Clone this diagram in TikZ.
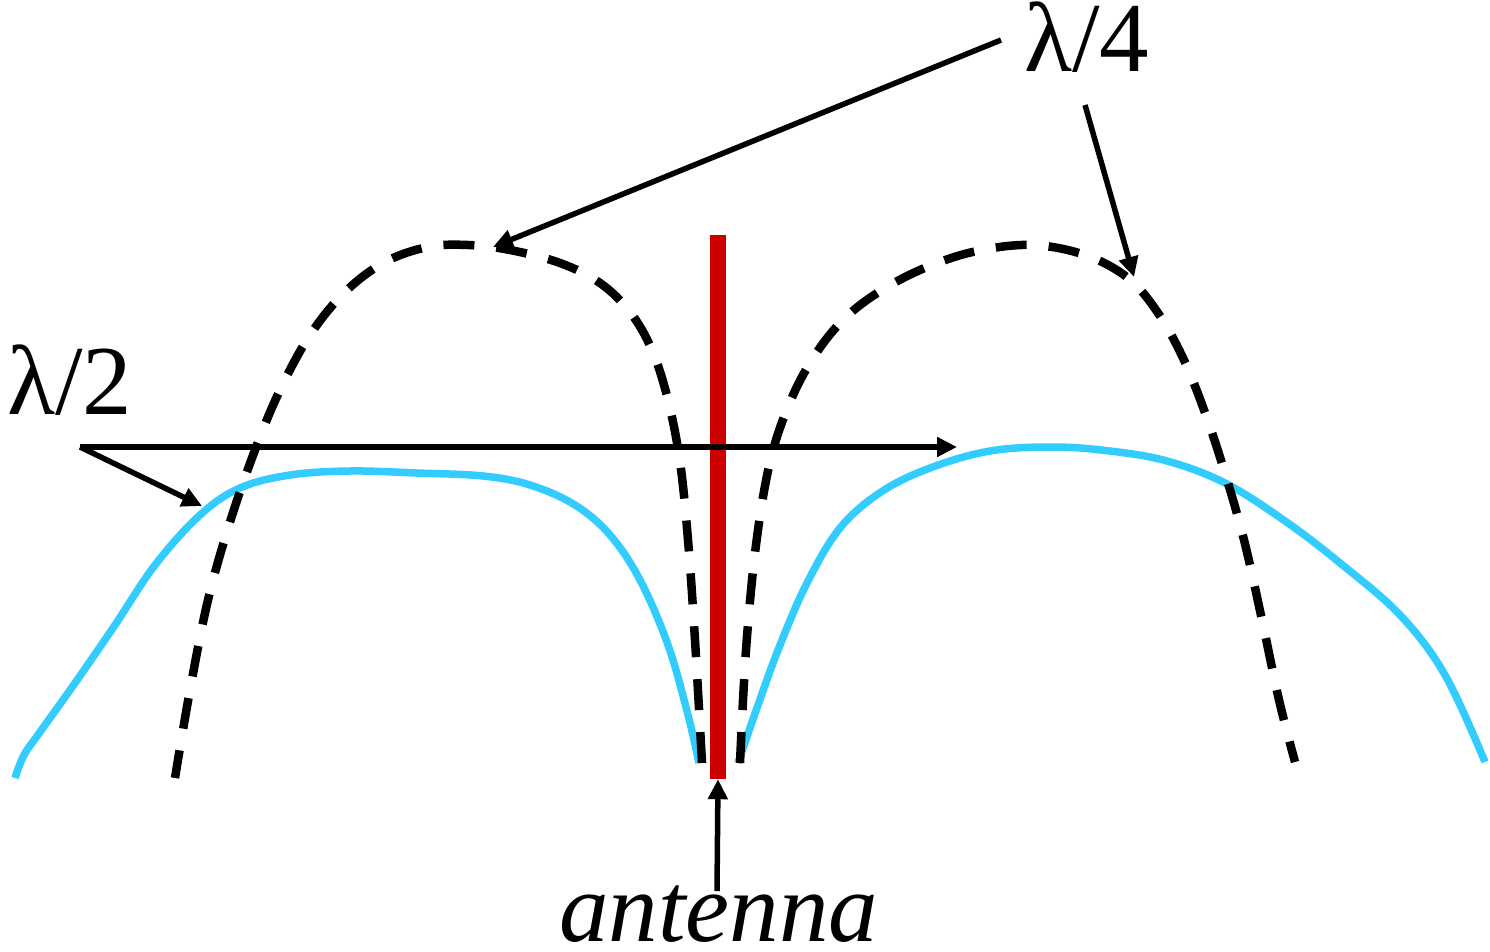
\documentclass[tikz,border=0pt]{standalone}
\usepackage{fontspec}
\setmainfont{Liberation Serif}
\usetikzlibrary{arrows.meta}
\definecolor{wave}{HTML}{33CCFF}
\definecolor{ant}{HTML}{CC0000}
\begin{document}
\begin{tikzpicture}[x=1pt,y=-1pt,
  lab/.style={inner sep=0pt, anchor=base west, font=\fontsize{99}{104}\selectfont},
  ptr/.style={line width=5.5pt, -{Triangle[length=20pt,width=19pt]}},
  lobe/.style={line width=8.5pt, dash pattern=on 31pt off 22pt},
  field/.style={line width=7.5pt, wave},
]
\useasboundingbox (0,0) rectangle (1490,952);

% field curve (blue)
\draw[field] plot[smooth, tension=0.6] coordinates {
  (15,778) (24,755) (40,732) (75,683) (115,625) (155,565) (200,515)
  (240,488) (290,475) (350,471) (417,473) (483,476) (530,485)
  (575,505) (610,535) (640,580) (668,645) (688,715) (699,763)};
\draw[field] plot[smooth, tension=0.6] coordinates {
  (738,763) (758,705) (780,645) (807,583) (840,528) (881,492) (930,468)
  (990,451) (1053,447) (1110,451) (1167,461) (1225,483)
  (1285,521) (1340,563) (1400,615) (1445,675) (1485,762)};

% dashed lobes
\draw[lobe] plot[smooth, tension=0.6] coordinates {
  (702,763) (695,640) (688,540) (680,462) (668,400) (652,350) (630,312)
  (600,283) (560,263) (510,250) (468,245) (428,247) (385,262) (345,292)
  (310,335) (280,390) (255,450) (230,522) (208,600) (190,690) (175,778)};
\draw[lobe] plot[smooth, tension=0.6] coordinates {
  (740,763) (746,650) (756,545) (770,462) (790,402) (815,355) (845,318)
  (882,290) (927,267) (977,251) (1032,245) (1085,255) (1128,278)
  (1158,313) (1183,358) (1204,410) (1224,470) (1244,540) (1262,620)
  (1279,700) (1295,762)};

% antenna
\node[fill=ant, minimum width=16pt, minimum height=544pt, inner sep=0pt] (bar) at (718,507) {};

% labels
\node[lab] (l4) at (1024,72) {λ/4};
\node[lab] (l2) at (7,414) {λ/2};
\node[lab, font=\fontsize{99}{104}\selectfont\itshape] (an) at (559,941) {antenna};

% pointers
\coordinate (s4a) at (1001,40);
\coordinate (s4b) at (1085,105);
\coordinate (e4a) at (493,247);
\coordinate (e4b) at (1134,277);
\coordinate (s2) at (80,447);
\coordinate (e2a) at (957,447);
\coordinate (e2b) at (202,506);
\coordinate (sa) at (717,891);

\draw[ptr] (s4a) -- (e4a);
\draw[ptr] (s4b) -- (e4b);
\draw[ptr] (s2) -- (e2a);
\draw[ptr] (s2) -- (e2b);
\draw[ptr] (sa) -- (bar.south);
\end{tikzpicture}
\end{document}
